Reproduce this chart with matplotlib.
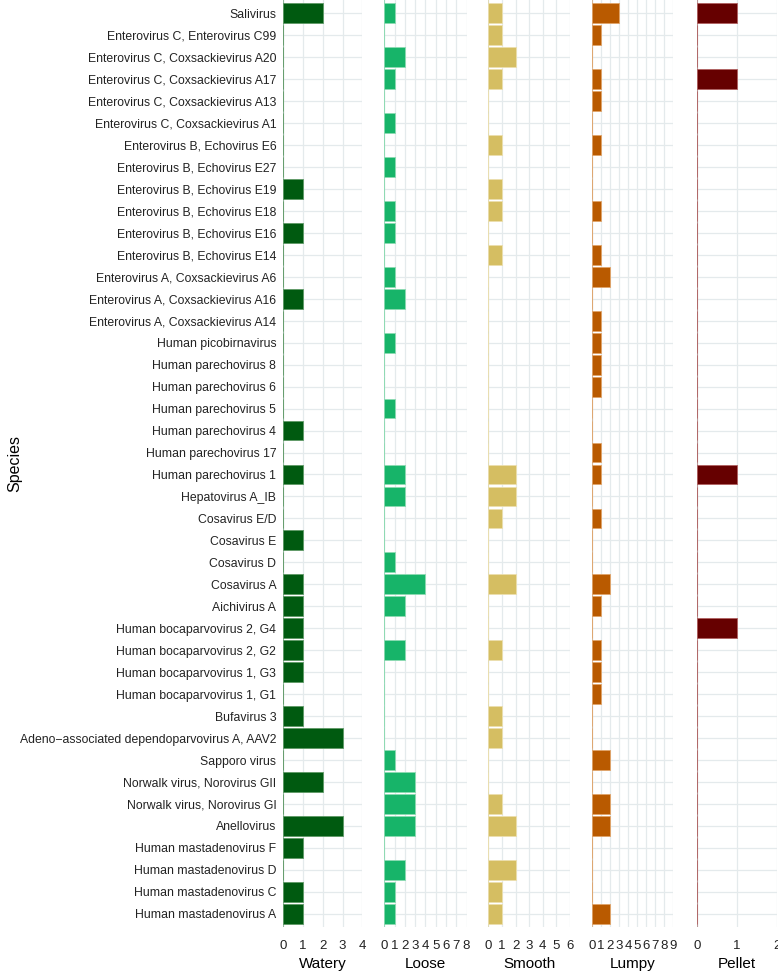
import numpy as np
import matplotlib
matplotlib.use("Agg")
from matplotlib import pyplot as plt

plt.rcParams['font.family'] = ['Liberation Sans', 'DejaVu Sans']

# species, top to bottom as shown
species = [
    "Salivirus",
    "Enterovirus C, Enterovirus C99",
    "Enterovirus C, Coxsackievirus A20",
    "Enterovirus C, Coxsackievirus A17",
    "Enterovirus C, Coxsackievirus A13",
    "Enterovirus C, Coxsackievirus A1",
    "Enterovirus B, Echovirus E6",
    "Enterovirus B, Echovirus E27",
    "Enterovirus B, Echovirus E19",
    "Enterovirus B, Echovirus E18",
    "Enterovirus B, Echovirus E16",
    "Enterovirus B, Echovirus E14",
    "Enterovirus A, Coxsackievirus A6",
    "Enterovirus A, Coxsackievirus A16",
    "Enterovirus A, Coxsackievirus A14",
    "Human picobirnavirus",
    "Human parechovirus 8",
    "Human parechovirus 6",
    "Human parechovirus 5",
    "Human parechovirus 4",
    "Human parechovirus 17",
    "Human parechovirus 1",
    "Hepatovirus A_IB",
    "Cosavirus E/D",
    "Cosavirus E",
    "Cosavirus D",
    "Cosavirus A",
    "Aichivirus A",
    "Human bocaparvovirus 2, G4",
    "Human bocaparvovirus 2, G2",
    "Human bocaparvovirus 1, G3",
    "Human bocaparvovirus 1, G1",
    "Bufavirus 3",
    "Adeno\u2212associated dependoparvovirus A, AAV2",
    "Sapporo virus",
    "Norwalk virus, Norovirus GII",
    "Norwalk virus, Norovirus GI",
    "Anellovirus",
    "Human mastadenovirus F",
    "Human mastadenovirus D",
    "Human mastadenovirus C",
    "Human mastadenovirus A",
]

watery = [2, 0, 0, 0, 0, 0, 0, 0, 1, 0, 1, 0, 0, 1, 0, 0, 0, 0, 0, 1, 0,
          1, 0, 0, 1, 0, 1, 1, 1, 1, 1, 0, 1, 3, 0, 2, 0, 3, 1, 0, 1, 1]
loose = [1, 0, 2, 1, 0, 1, 0, 1, 0, 1, 1, 0, 1, 2, 0, 1, 0, 0, 1, 0, 0,
         2, 2, 0, 0, 1, 4, 2, 0, 2, 0, 0, 0, 0, 1, 3, 3, 3, 0, 2, 1, 1]
smooth = [1, 1, 2, 1, 0, 0, 1, 0, 1, 1, 0, 1, 0, 0, 0, 0, 0, 0, 0, 0, 0,
          2, 2, 1, 0, 0, 2, 0, 0, 1, 0, 0, 1, 1, 0, 0, 1, 2, 0, 2, 1, 1]
lumpy = [3, 1, 0, 1, 1, 0, 1, 0, 0, 1, 0, 1, 2, 0, 1, 1, 1, 1, 0, 0, 1,
         1, 0, 1, 0, 0, 2, 1, 0, 1, 1, 1, 0, 0, 2, 0, 2, 2, 0, 0, 0, 2]
pellet = [1, 0, 0, 1, 0, 0, 0, 0, 0, 0, 0, 0, 0, 0, 0, 0, 0, 0, 0, 0, 0,
          1, 0, 0, 0, 0, 0, 0, 1, 0, 0, 0, 0, 0, 0, 0, 0, 0, 0, 0, 0, 0]

panels = ["Watery", "Loose", "Smooth", "Lumpy", "Pellet"]
values = [watery, loose, smooth, lumpy, pellet]
xmax = [4, 8, 6, 9, 2]
colors = ["#005a10", "#17b469", "#d5be62", "#b95a00", "#660000"]
edges = ["#5f9a66", "#8ddbb2", "#ecdfae", "#e0a46a", "#b06060"]

W, H = 778, 971
fig = plt.figure(figsize=(W / 100, H / 100), dpi=100)

# panel left/right edges in pixels
lefts = [283.3, 384.3, 488.3, 591.7, 697.3]
rights = [362.3, 466.5, 570.0, 673.3, 776.7]
top_px, bot_px = 0, 927

n = len(species)
y = np.arange(n)[::-1]   # first species at the top
grid_col = "#e4eaec"

for k in range(len(panels)):
    ax = fig.add_axes([lefts[k] / W, 1 - bot_px / H,
                       (rights[k] - lefts[k]) / W, (bot_px - top_px) / H])
    ax.set_xlim(0, xmax[k])
    ax.set_ylim(-0.6, n - 0.4)
    ax.set_xticks(range(0, xmax[k] + 1))
    ax.set_yticks(y)
    for s in ax.spines.values():
        s.set_visible(False)
    ax.grid(True, color=grid_col, lw=0.9)
    ax.set_axisbelow(True)
    ax.tick_params(length=0, labelsize=9.5, colors="#222222", pad=9)
    ax.axvline(0, color=colors[k], alpha=0.35, lw=0.8, zorder=1)  # zero-count bars leave a line at 0
    ax.barh(y, values[k], height=0.9, color=colors[k], edgecolor=edges[k],
            linewidth=0.6, zorder=2)
    ax.set_xlabel(panels[k], fontsize=11, labelpad=4)
    if k == 0:
        ax.set_yticklabels(species, fontsize=8.8, color="#222222")
        ax.tick_params(axis="y", pad=5)
    else:
        ax.set_yticklabels([])

fig.text(7 / W, 1 - 463 / H, "Species", rotation=90, ha="left", va="center",
         fontsize=11.5)

fig.savefig("out.png", dpi=100)
